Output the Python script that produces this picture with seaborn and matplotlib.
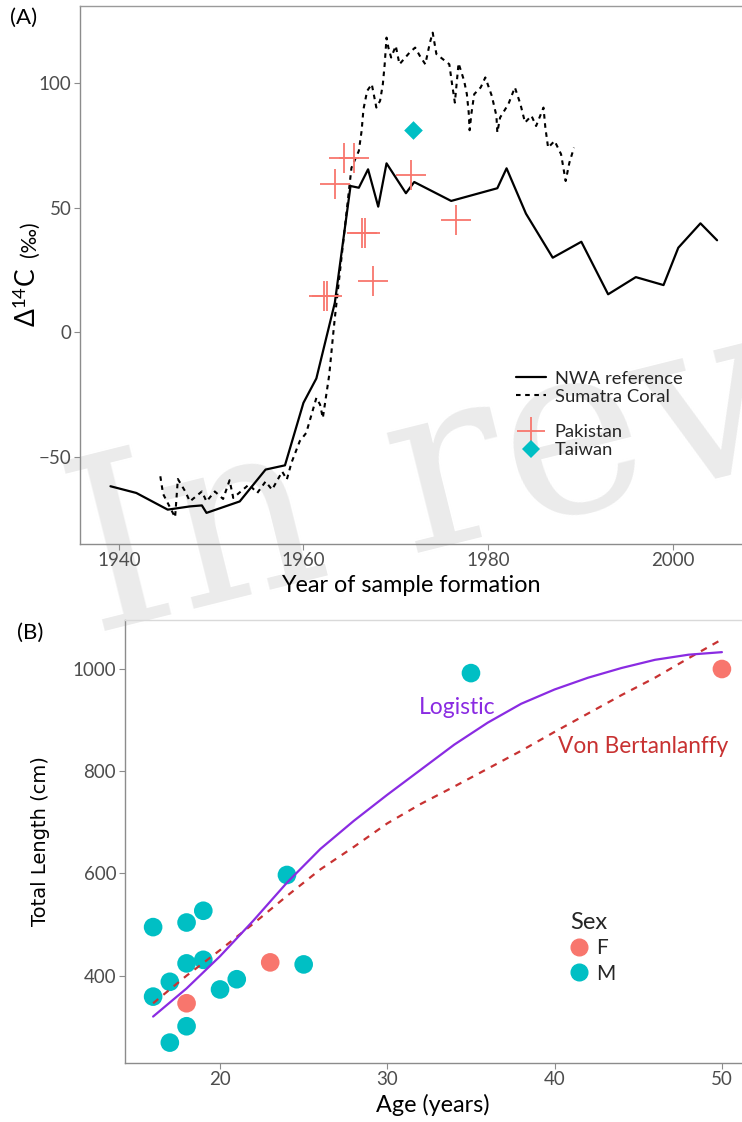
import matplotlib
matplotlib.use("Agg")
import matplotlib.pyplot as plt
import numpy as np
import pandas as pd
import seaborn as sns
from matplotlib.lines import Line2D

# ---------------- Panel A data ----------------
nwa_year = [1939.1, 1941.9, 1945.3, 1947.7, 1949.0, 1949.5, 1953.1, 1955.9, 1958.0,
            1960.0, 1961.4, 1963.4, 1965.1, 1966.0, 1967.0, 1968.1, 1969.0, 1971.1,
            1972.0, 1976.0, 1981.0, 1982.0, 1984.1, 1987.0, 1990.1, 1993.0, 1996.0,
            1999.0, 2000.6, 2003.0, 2004.8]
nwa_d14c = [-61.9, -64.6, -71.3, -70.0, -69.6, -72.6, -68.0, -55.2, -53.5,
            -28.4, -18.6, 11.8, 58.7, 58.0, 65.4, 50.4, 67.8, 55.8,
            60.3, 52.7, 57.8, 65.8, 47.6, 29.9, 36.3, 15.2, 22.1,
            18.9, 33.9, 43.7, 36.9]

coral_year = [1944.5, 1944.8, 1946.1, 1946.4, 1947.2, 1947.7, 1949.0, 1949.5, 1950.4,
              1951.3, 1952.0, 1952.4, 1954.1, 1955.0, 1955.9, 1956.6, 1957.7, 1958.2,
              1958.7, 1959.6, 1960.3, 1961.4, 1961.8, 1962.1, 1962.8, 1963.2, 1963.4,
              1965.2, 1966.0, 1966.3, 1966.5, 1966.9, 1967.4, 1967.9, 1968.3, 1968.6,
              1968.8, 1969.0, 1969.2, 1969.5, 1970.0, 1970.4, 1971.5, 1972.1, 1972.6,
              1973.2, 1973.7, 1974.0, 1974.4, 1975.8, 1976.1, 1976.4, 1976.8, 1977.4,
              1977.7, 1977.9, 1978.0, 1978.2, 1978.5, 1979.2, 1979.7, 1980.4, 1980.9,
              1981.0, 1981.3, 1982.2, 1982.9, 1983.5, 1984.0, 1984.7, 1985.2, 1986.0,
              1986.2, 1986.5, 1987.2, 1987.9, 1988.4, 1988.8, 1989.3]
coral_d14c = [-57.9, -65.0, -74.4, -59.0, -64.0, -68.0, -64.0, -68.0, -64.0,
              -67.0, -59.5, -66.6, -61.2, -64.6, -60.0, -63.3, -56.0, -59.2,
              -52.5, -43.8, -40.5, -26.4, -29.1, -34.5, -17.0, -1.6, 5.7,
              66.0, 72.8, 80.8, 89.5, 96.9, 99.6, 90.2, 92.9, 99.6,
              107.6, 118.3, 114.3, 110.3, 115.0, 107.6, 112.3, 114.3, 111.0,
              107.6, 116.3, 120.3, 111.7, 107.6, 99.6, 92.2, 108.0, 101.0,
              95.6, 88.2, 81.1, 88.0, 95.6, 98.3, 102.3, 94.9, 86.9,
              80.2, 86.2, 91.6, 98.3, 91.6, 84.2, 86.9, 82.8, 90.2,
              82.2, 74.1, 76.8, 71.5, 60.7, 68.0, 74.1]

pak_year = [1962.2, 1962.6, 1963.4, 1964.4, 1965.5, 1966.3, 1966.7, 1967.5, 1971.7, 1976.5]
pak_d14c = [14.5, 14.5, 59.4, 70.0, 70.0, 39.7, 39.7, 20.5, 63.2, 44.9]

tw_year = [1971.9]
tw_d14c = [81.1]

# ---------------- Panel B data ----------------
age_vals = [16, 16, 17, 17, 18, 18, 18, 19, 19, 20, 21, 24, 25, 35, 18, 23, 50]
length_vals = [495, 359, 388, 269, 504, 424, 301, 527, 431, 373, 393, 597, 422, 992, 346, 426, 1000]
sex_vals = ["M"] * 14 + ["F"] * 3

curve_age = [16, 18, 20, 22, 24, 26, 28, 30, 32, 34, 36, 38, 40, 42, 44, 46, 48, 50]
logistic_len = [320, 375, 438, 508, 582, 648, 703, 754, 803, 852, 895, 932, 960, 983,
                1002, 1018, 1028, 1033]
vb_len = [346, 400, 450, 502, 556, 608, 652, 698, 736, 770, 805, 840, 877, 913,
          949, 983, 1021, 1058]

# ---------------- styling ----------------
sns.set_theme(style="white")
FONT = ["Lato", "DejaVu Sans"]
plt.rcParams["font.family"] = FONT
plt.rcParams["mathtext.fontset"] = "custom"
plt.rcParams["mathtext.rm"] = "Lato"
plt.rcParams["mathtext.it"] = "Lato:italic"

TICKC = "#4d4d4d"
SPINEC = "#8c8c8c"
RED = "#F8766D"
TEAL = "#00BFC4"
PURPLE = "#8a2be2"
BRICK = "#c83232"

fig = plt.figure(figsize=(7.42, 11.22), dpi=100)
fig.patch.set_facecolor("white")

W, H = 742.0, 1122.0
def ax_rect(x0, y0, x1, y1):
    return [x0 / W, 1 - y1 / H, (x1 - x0) / W, (y1 - y0) / H]

axA = fig.add_axes(ax_rect(80, 6, 742, 544))
axB = fig.add_axes(ax_rect(124.5, 620, 742, 1062.7))
for ax in (axA, axB):
    ax.set_facecolor("none")

# watermark
fig.text(92 / W, 1 - 634 / H, "In review", fontsize=173, family="DejaVu Serif",
         color="#ebebeb", rotation=14, rotation_mode="anchor",
         ha="left", va="baseline", zorder=-5)

# ---- Panel A ----
nwa_df = pd.DataFrame({"year": nwa_year, "d14c": nwa_d14c})
coral_df = pd.DataFrame({"year": coral_year, "d14c": coral_d14c})
pak_df = pd.DataFrame({"year": pak_year, "d14c": pak_d14c})
tw_df = pd.DataFrame({"year": tw_year, "d14c": tw_d14c})

sns.lineplot(data=nwa_df, x="year", y="d14c", ax=axA, color="black", lw=1.6,
             sort=False, estimator=None, legend=False)
sns.lineplot(data=coral_df, x="year", y="d14c", ax=axA, color="black", lw=1.5,
             sort=False, estimator=None, legend=False)
axA.lines[-1].set_dashes((2.2, 2.2))
sns.scatterplot(data=pak_df, x="year", y="d14c", ax=axA, marker="+", s=480,
                color=RED, linewidth=1.3, legend=False, zorder=4)
sns.scatterplot(data=tw_df, x="year", y="d14c", ax=axA, marker="D", s=90,
                color=TEAL, linewidth=0, legend=False, zorder=4)

axA.set_xlim(1935.8, 2007.5)
axA.set_ylim(-85.1, 131)
axA.set_xticks([1940, 1960, 1980, 2000])
axA.set_yticks([-50, 0, 50, 100])
axA.set_yticklabels(["\u221250", "0", "50", "100"])
axA.set_xlabel("Year of sample formation", fontsize=16.8, color="black", labelpad=4)
axA.set_ylabel("")
fig.text(27 / W, 1 - 297 / H, r"$\Delta^{14}$C", fontsize=19, rotation=90,
         ha="center", va="center", color="black")
fig.text(30 / W, 1 - 239 / H, "(‰)", fontsize=15, rotation=90,
         ha="center", va="center", color="black")

handles = [
    Line2D([], [], color="black", lw=1.6),
    Line2D([], [], color="black", lw=1.5, dashes=(2.2, 2.2)),
    Line2D([], [], linestyle="none"),
    Line2D([], [], color=RED, marker="+", markersize=20, markeredgewidth=1.3, linestyle="none"),
    Line2D([], [], color=TEAL, marker="D", markersize=9, markeredgewidth=0, linestyle="none"),
]
labels = ["NWA reference", "Sumatra Coral", " ", "Pakistan", "Taiwan"]
legA = axA.legend(handles, labels, loc="upper left", bbox_to_anchor=(0.659, 0.322),
                  frameon=False, fontsize=13.2, handlelength=1.6, handletextpad=0.5,
                  labelspacing=0.1, borderpad=0, borderaxespad=0)

# ---- Panel B ----
fish_df = pd.DataFrame({"age": age_vals, "length": length_vals, "sex": sex_vals})
curve_df = pd.DataFrame({"age": curve_age, "logistic": logistic_len, "vb": vb_len})

sns.scatterplot(data=fish_df, x="age", y="length", hue="sex", hue_order=["F", "M"],
                palette={"F": RED, "M": TEAL}, s=180, linewidth=0, ax=axB,
                legend=False, zorder=3)
sns.lineplot(data=curve_df, x="age", y="vb", ax=axB, color=BRICK, lw=1.6,
             estimator=None, legend=False, zorder=4)
axB.lines[-1].set_dashes((3, 3))
sns.lineplot(data=curve_df, x="age", y="logistic", ax=axB, color=PURPLE, lw=1.6,
             estimator=None, legend=False, zorder=5)

axB.text(34.2, 924, "Logistic", color=PURPLE, fontsize=16.5, ha="center", va="center")
axB.text(45.3, 848, "Von Bertanlanffy", color=BRICK, fontsize=16.3, ha="center", va="center")

axB.set_xlim(14.29, 51.2)
axB.set_ylim(229.7, 1095.9)
axB.set_xticks([20, 30, 40, 50])
axB.set_yticks([400, 600, 800, 1000])
axB.set_xlabel("Age (years)", fontsize=16.8, color="black", labelpad=4)
axB.set_ylabel("Total Length (cm)", fontsize=14, color="black", family="DejaVu Sans",
               labelpad=16)

hB = [Line2D([], [], color=RED, marker="o", markersize=12, linestyle="none"),
      Line2D([], [], color=TEAL, marker="o", markersize=12, linestyle="none")]
legB = axB.legend(hB, ["F", "M"], title="Sex", loc="upper left",
                  bbox_to_anchor=(0.7215, 0.34), frameon=False, fontsize=15,
                  title_fontsize=17, handlelength=0.9, handletextpad=0.35,
                  labelspacing=0.25, borderpad=0, borderaxespad=0)
legB._legend_box.align = "left"

for ax, topc in ((axA, "#9a9a9a"), (axB, "#d9d9d9")):
    for side in ("left", "bottom"):
        ax.spines[side].set_color(SPINEC)
        ax.spines[side].set_linewidth(1.0)
    ax.spines["top"].set_color(topc)
    ax.spines["top"].set_linewidth(1.0)
    ax.spines["right"].set_visible(False)
    ax.tick_params(axis="both", which="both", direction="out", length=4, width=0.8,
                   color=SPINEC, labelcolor=TICKC, labelsize=13.5, pad=2,
                   bottom=True, left=True)
    for lab in ax.get_xticklabels() + ax.get_yticklabels():
        lab.set_family(FONT)

fig.text(10 / W, 1 - 18 / H, "(A)", fontsize=16, ha="left", va="center", color="black")
fig.text(17 / W, 1 - 633 / H, "(B)", fontsize=16, ha="left", va="center", color="black")

fig.savefig("out.png", dpi=100, facecolor="white")
